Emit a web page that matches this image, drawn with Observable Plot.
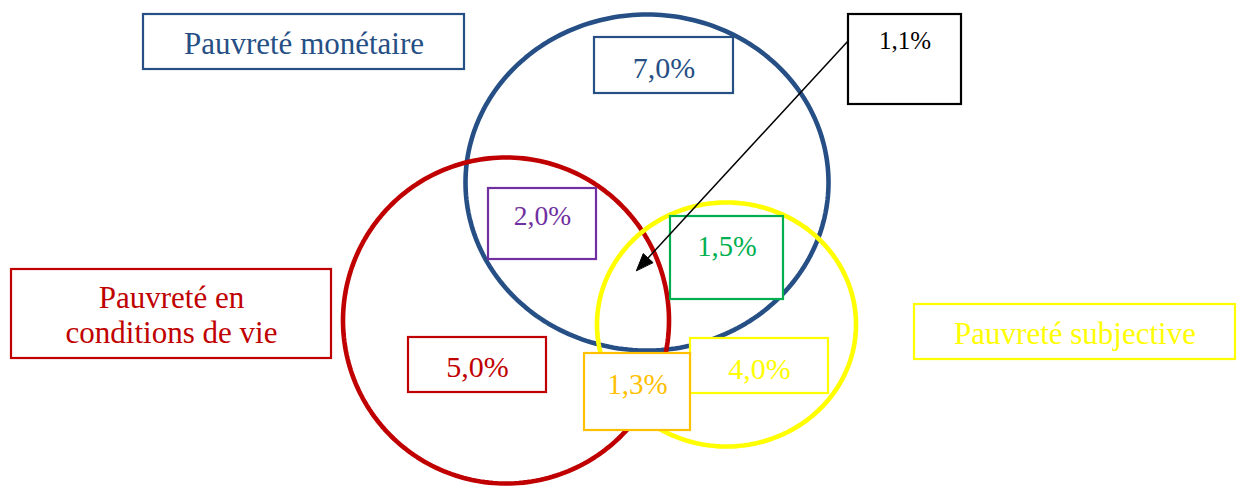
<!DOCTYPE html>
<html>
<head>
<meta charset="utf-8">
<script src="https://cdn.jsdelivr.net/npm/d3@7"></script>
<script src="https://cdn.jsdelivr.net/npm/@observablehq/plot@0.6"></script>
<style>
  html, body { margin: 0; padding: 0; background: #fff; }
  #chart svg { display: block; }
</style>
</head>
<body>
<div id="chart"></div>
<script>
// ---- Data ----
const sets = ["monetaire", "conditions", "subjective"];
const setLabels = ["Pauvreté monétaire", "Pauvreté en\nconditions de vie", "Pauvreté subjective"];
const regions = ["M", "C", "S", "MC", "MS", "CS", "MCS"];
const regionValues = [7.0, 5.0, 4.0, 2.0, 1.5, 1.3, 1.1];

// ---- Layout (pixel space) ----
const W = 1243, H = 486;
const setColors = ["#264f85", "#c00000", "#ffff00"];
const circleGeom = [
  {cx: 646.5, cy: 182, rx: 181.5, ry: 168},
  {cx: 505.5, cy: 320, rx: 163, ry: 163},
  {cx: 726, cy: 324, rx: 129.5, ry: 122}
];
const setBoxes = [
  {x1: 143, x2: 464, y1: 14, y2: 69, ty: 53, fs: 31},
  {x1: 11, x2: 331, y1: 269, y2: 358, ty: 342, fs: 31},
  {x1: 914, x2: 1235, y1: 304, y2: 359, ty: 343, fs: 31}
];
const regionColors = ["#264f85", "#c00000", "#ffff00", "#7030a0", "#00b050", "#ffc000", "#000000"];
const regionBoxes = [
  {x1: 594, x2: 733, y1: 37, y2: 93, ty: 77, fs: 30},
  {x1: 408, x2: 546, y1: 337, y2: 392, ty: 376, fs: 30},
  {x1: 690, x2: 828, y1: 338, y2: 393, ty: 378, fs: 30},
  {x1: 488, x2: 596, y1: 188, y2: 259, ty: 224, fs: 27.5},
  {x1: 670, x2: 783, y1: 216, y2: 299, ty: 255, fs: 28.5},
  {x1: 584, x2: 690, y1: 353, y2: 430, ty: 393, fs: 29},
  {x1: 848, x2: 961, y1: 14, y2: 104, ty: 48, fs: 25}
];
const arrowFrom = {x: 848, y: 40};
const arrowTo = {x: 636, y: 270};

const fmt = v => v.toFixed(1).replace(".", ",") + "%";

// ellipse outlines (geometry sampling)
const ellipsePts = [];
circleGeom.forEach((g, i) => {
  const n = 240;
  for (let k = 0; k < n; k++) {
    const t = (k / n) * 2 * Math.PI;
    ellipsePts.push({set: sets[i], x: g.cx + g.rx * Math.cos(t), y: g.cy + g.ry * Math.sin(t)});
  }
});

const setBoxData = sets.map((s, i) => ({...setBoxes[i], label: setLabels[i], color: setColors[i]}));
const regionBoxData = regions.map((r, i) => ({...regionBoxes[i], label: fmt(regionValues[i]), color: regionColors[i]}));
const allBoxes = [...setBoxData, ...regionBoxData];

// arrow head (filled triangle)
const dx = arrowTo.x - arrowFrom.x, dy = arrowTo.y - arrowFrom.y;
const len = Math.hypot(dx, dy);
const ux = dx / len, uy = dy / len;
const hl = 17, hw = 6.5;
const bx = arrowTo.x - hl * ux, by = arrowTo.y - hl * uy;
const head = [
  {x: arrowTo.x, y: arrowTo.y},
  {x: bx - hw * uy, y: by + hw * ux},
  {x: bx + hw * uy, y: by - hw * ux}
];

const chart = Plot.plot({
  width: W,
  height: H,
  margin: 0,
  x: {domain: [0, W], range: [0, W], axis: null},
  y: {domain: [0, H], range: [0, H], axis: null},
  style: {background: "#fff", fontFamily: "'Liberation Serif', serif"},
  marks: [
    ...sets.map((s, i) => Plot.line(ellipsePts.filter(d => d.set === s), {
      x: "x", y: "y", curve: "linear-closed", stroke: setColors[i], strokeWidth: 4.6
    })),
    Plot.rect(allBoxes, {
      x1: "x1", x2: "x2", y1: "y1", y2: "y2",
      fill: "#fff", stroke: d => d.color, strokeWidth: 2.2
    }),
    Plot.text(allBoxes, {
      x: d => (d.x1 + d.x2) / 2, y: "ty", text: "label",
      fill: d => d.color, fontSize: d => d.fs,
      textAnchor: "middle", lineAnchor: "bottom", lineHeight: 1.1,
      fontFamily: "Liberation Serif"
    }),
    Plot.link([{x1: arrowFrom.x, y1: arrowFrom.y, x2: bx, y2: by}], {
      x1: "x1", y1: "y1", x2: "x2", y2: "y2", stroke: "#000", strokeWidth: 1.5
    }),
    Plot.line(head, {x: "x", y: "y", curve: "linear-closed", fill: "#000", stroke: "#000", strokeWidth: 1})
  ]
});
document.getElementById("chart").appendChild(chart);
</script>
</body>
</html>
